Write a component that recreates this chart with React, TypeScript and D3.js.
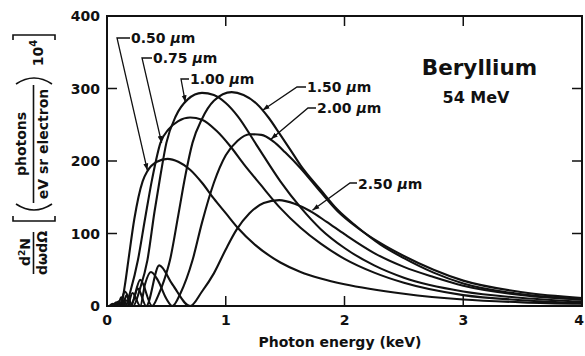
import React from "react";
import * as d3 from "d3";

// photon energy (keV) vs d2N/dwdΩ (x1e4), beryllium foils at 54 MeV
const xTicks = [0, 1, 2, 3, 4];
const yTicks = [0, 100, 200, 300, 400];
const thickness = ["0.50", "0.75", "1.00", "1.50", "2.00", "2.50"];

const be050: [number, number][] = [
  [0.02, 0], [0.05, 3], [0.075, 0], [0.095, 6], [0.115, 0], [0.15, 28], [0.18, 63],
  [0.23, 120], [0.3, 172], [0.34, 186], [0.42, 199], [0.51, 203], [0.6, 199], [0.7, 188],
  [0.8, 170], [0.9, 148], [1.0, 128], [1.1, 108], [1.25, 84], [1.46, 60], [1.63, 47],
  [1.8, 38], [2.0, 30], [2.5, 17], [3.0, 9], [3.5, 5], [4.0, 3],
];
const be075: [number, number][] = [
  [0.04, 0], [0.065, 3], [0.09, 0], [0.12, 12], [0.155, 0], [0.2, 22], [0.26, 63],
  [0.32, 120], [0.38, 175], [0.45, 225], [0.52, 244], [0.6, 255], [0.7, 260], [0.8, 257],
  [0.92, 242], [1.04, 220], [1.15, 196], [1.29, 168], [1.46, 135], [1.63, 108], [1.8, 86],
  [2.0, 65], [2.25, 46], [2.5, 32], [3.0, 15], [3.5, 8], [4.0, 4],
];
const be100: [number, number][] = [
  [0.05, 0], [0.08, 5], [0.105, 0], [0.15, 20], [0.22, 0], [0.28, 25], [0.34, 63],
  [0.4, 130], [0.45, 180], [0.5, 225], [0.58, 262], [0.68, 285], [0.8, 294], [0.9, 291],
  [1.0, 280], [1.1, 262], [1.26, 222], [1.46, 172], [1.63, 136], [1.8, 106], [2.0, 80],
  [2.25, 56], [2.5, 39], [3.0, 20], [3.5, 11], [4.0, 6],
];
const be150: [number, number][] = [
  [0.07, 0], [0.1, 6], [0.13, 0], [0.165, 15], [0.2, 0], [0.28, 36], [0.38, 0],
  [0.43, 14], [0.48, 35], [0.53, 63], [0.6, 125], [0.66, 180], [0.72, 225], [0.8, 258],
  [0.9, 283], [1.05, 295], [1.15, 291], [1.26, 279], [1.36, 260], [1.46, 236], [1.55, 214],
  [1.63, 194], [1.8, 160], [1.94, 133], [2.1, 110], [2.3, 85], [2.5, 66], [2.75, 46],
  [3.0, 31], [3.5, 16], [4.0, 9],
];
const be200: [number, number][] = [
  [0.12, 0], [0.145, 7], [0.17, 0], [0.215, 18], [0.28, 0], [0.32, 30], [0.37, 47],
  [0.43, 35], [0.5, 10], [0.55, 0], [0.62, 18], [0.72, 63], [0.8, 115], [0.9, 170],
  [1.0, 208], [1.1, 228], [1.2, 237], [1.3, 236], [1.4, 227], [1.5, 212], [1.63, 190],
  [1.8, 157], [1.94, 131], [2.1, 109], [2.3, 87], [2.5, 69], [2.75, 50], [3.0, 35],
  [3.5, 19], [4.0, 11],
];
const be250: [number, number][] = [
  [0.13, 0], [0.16, 8], [0.2, 0], [0.26, 24], [0.33, 0], [0.44, 56], [0.55, 30], [0.7, 0],
  [0.8, 20], [0.9, 45], [1.0, 78], [1.09, 105], [1.2, 128], [1.32, 142], [1.45, 146],
  [1.58, 141], [1.71, 131], [1.85, 116], [2.0, 99], [2.25, 73], [2.5, 54], [2.75, 40],
  [3.0, 28], [3.5, 15], [4.0, 9],
];
const series = [be050, be075, be100, be150, be200, be250];
// where each label's arrow touches its curve (keV, value)
const arrowTips: [number, number][] = [
  [0.34, 187], [0.46, 225], [0.66, 281], [1.31, 270], [1.38, 230], [1.73, 132],
];

const font = "'DejaVu Sans', sans-serif";

export default function App() {
  const x = d3.scaleLinear().domain([0, 4]).range([107, 582]);
  const y = d3.scaleLinear().domain([0, 400]).range([306, 16]);
  const line = d3
    .line<[number, number]>()
    .x((d) => x(d[0]))
    .y((d) => y(d[1]))
    .curve(d3.curveMonotoneX);

  // text start, baseline, stub x, stub y for each thickness label
  const spots = [
    { tx: 131, ty: 43, sx: 117, sy: 38 },
    { tx: 153, ty: 63, sx: 142, sy: 58 },
    { tx: 190, ty: 84, sx: 181, sy: 79 },
    { tx: 307, ty: 92, sx: 297, sy: 87 },
    { tx: 317, ty: 113, sx: 308, sy: 108 },
    { tx: 358, ty: 189, sx: 350, sy: 183 },
  ];

  return (
    <svg
      width={585}
      height={356}
      style={{ position: "absolute", left: 0, top: 0, background: "#fff" }}
      fontFamily={font}
      fontWeight="bold"
    >
      <defs>
        <marker
          id="tip"
          viewBox="0 0 10 10"
          refX="10"
          refY="5"
          markerWidth="7"
          markerHeight="7"
          markerUnits="userSpaceOnUse"
          orient="auto"
        >
          <path d="M0,1.5L10,5L0,8.5z" fill="#111" />
        </marker>
      </defs>

      {/* frame and inward ticks */}
      <rect x={107} y={16} width={475} height={290} fill="none" stroke="#111" strokeWidth={2} />
      {yTicks.slice(1, 4).map((t) => (
        <g key={"y" + t} stroke="#111" strokeWidth={1.5}>
          <line x1={107} x2={117} y1={y(t)} y2={y(t)} />
          <line x1={572} x2={582} y1={y(t)} y2={y(t)} />
        </g>
      ))}
      {xTicks.slice(1, 4).map((t) => (
        <g key={"x" + t} stroke="#111" strokeWidth={1.5}>
          <line x1={x(t)} x2={x(t)} y1={306} y2={296} />
          <line x1={x(t)} x2={x(t)} y1={16} y2={26} />
        </g>
      ))}
      {yTicks.map((t) => (
        <text key={"yl" + t} x={100} y={y(t) + 5} textAnchor="end" fontSize={14} fill="#111">
          {t}
        </text>
      ))}
      {xTicks.map((t, i) => (
        <text
          key={"xl" + t}
          x={i === xTicks.length - 1 ? 584 : x(t)}
          y={325}
          textAnchor={i === xTicks.length - 1 ? "end" : "middle"}
          fontSize={14}
          fill="#111"
        >
          {t}
        </text>
      ))}
      <text x={340} y={347} textAnchor="middle" fontSize={14} fill="#111">
        Photon energy (keV)
      </text>

      {/* y axis label, rotated */}
      <g fill="#111" fontSize={14}>
        <g transform="rotate(-90)">
          <text x={-252} y={30} textAnchor="middle">
            d<tspan dy={-5} fontSize={9}>2</tspan>
            <tspan dy={5}>N</tspan>
          </text>
          <text x={-253} y={47} textAnchor="middle">dωdΩ</text>
          <text x={-144} y={26} textAnchor="middle">photons</text>
          <text x={-144} y={48} textAnchor="middle">eV sr electron</text>
          <text x={-53} y={43} textAnchor="middle">
            10<tspan dy={-6} fontSize={10}>4</tspan>
          </text>
        </g>
        <g fill="none" stroke="#111" strokeWidth={1.6}>
          <line x1={33.5} x2={33.5} y1={232} y2={274} />
          <line x1={33.5} x2={33.5} y1={85} y2={203} />
          <path d="M13,216V221H55V216" />
          <path d="M16,204Q34,216 52,204" />
          <path d="M16,84Q34,72 52,84" />
          <path d="M13,40V35H55V40" />
        </g>
      </g>

      {/* spectra */}
      <g fill="none" stroke="#111" strokeWidth={2.1}>
        {series.map((s, i) => (
          <path key={thickness[i]} d={line(s) || ""} />
        ))}
      </g>

      {/* thickness labels with leaders */}
      {thickness.map((t, i) => {
        const sp = spots[i];
        const [e, v] = arrowTips[i];
        return (
          <g key={"lab" + t}>
            <path
              d={`M${sp.tx - 1},${sp.sy}H${sp.sx}L${x(e)},${y(v)}`}
              fill="none"
              stroke="#111"
              strokeWidth={1.3}
              markerEnd="url(#tip)"
            />
            <text x={sp.tx} y={sp.ty} fontSize={14} fill="#111">
              {t} <tspan fontStyle="italic">μ</tspan>m
            </text>
          </g>
        );
      })}

      <text x={479.5} y={75} textAnchor="middle" fontSize={21.5} fill="#111">
        Beryllium
      </text>
      <text x={476} y={103} textAnchor="middle" fontSize={16} fill="#111">
        54 MeV
      </text>
    </svg>
  );
}
